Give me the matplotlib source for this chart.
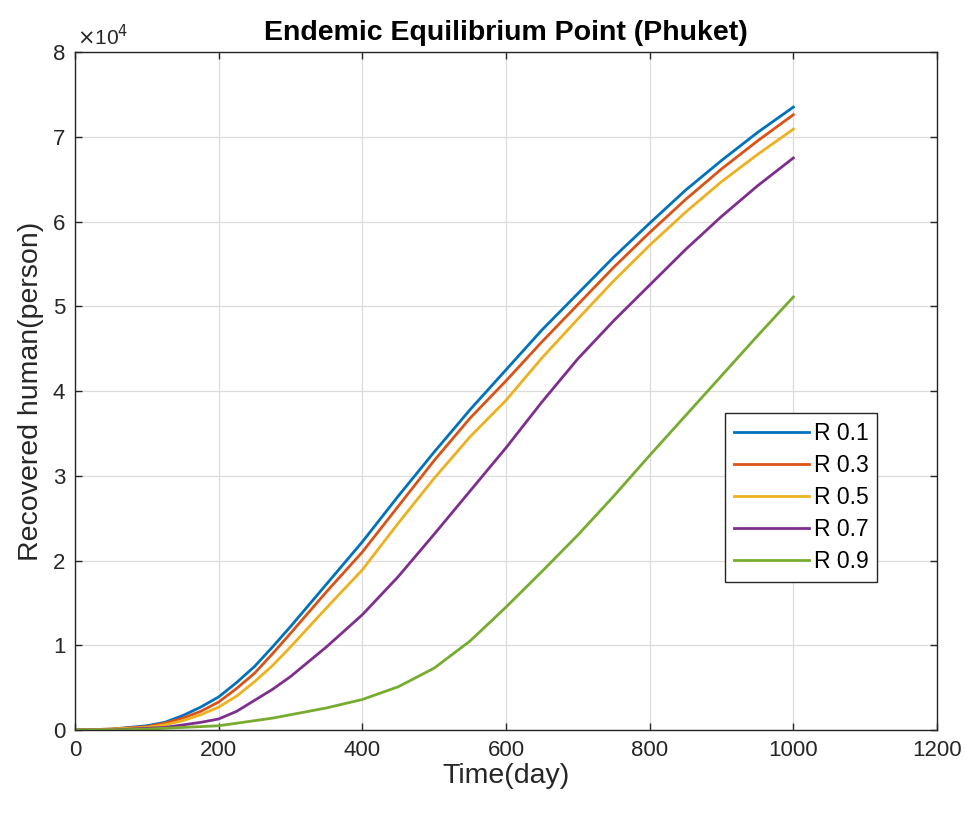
import numpy as np
import matplotlib
matplotlib.use("Agg")
import matplotlib.pyplot as plt

plt.rcParams['font.family'] = ['Liberation Sans', 'DejaVu Sans']

# time axis (day) and recovered humans, in units of 10^4 persons
days = [0, 50, 100, 125, 150, 175, 200, 225, 250, 275, 300, 350, 400, 450, 500,
        550, 600, 650, 700, 750, 800, 850, 900, 950, 1000]
r01 = [0, 0.01, 0.05, 0.09, 0.17, 0.27, 0.39, 0.56, 0.75, 0.98, 1.22, 1.72,
       2.22, 2.76, 3.28, 3.78, 4.25, 4.72, 5.15, 5.58, 5.98, 6.37, 6.72, 7.05, 7.35]
r03 = [0, 0.01, 0.04, 0.08, 0.14, 0.22, 0.33, 0.49, 0.67, 0.90, 1.14, 1.63,
       2.10, 2.64, 3.18, 3.68, 4.12, 4.58, 5.02, 5.46, 5.87, 6.26, 6.62, 6.95, 7.26]
r05 = [0, 0.01, 0.03, 0.06, 0.11, 0.18, 0.27, 0.40, 0.57, 0.76, 0.98, 1.44,
       1.89, 2.44, 2.97, 3.46, 3.89, 4.39, 4.85, 5.30, 5.72, 6.11, 6.47, 6.79, 7.09]
r07 = [0, 0.0, 0.02, 0.03, 0.06, 0.09, 0.13, 0.22, 0.35, 0.48, 0.63, 0.98,
       1.36, 1.81, 2.31, 2.82, 3.33, 3.87, 4.38, 4.83, 5.25, 5.67, 6.06, 6.42, 6.75]
r09 = [0, 0.0, 0.01, 0.02, 0.03, 0.04, 0.05, 0.08, 0.11, 0.14, 0.18, 0.26,
       0.36, 0.51, 0.73, 1.05, 1.45, 1.87, 2.30, 2.76, 3.24, 3.71, 4.18, 4.65, 5.11]

labels = ['R 0.1', 'R 0.3', 'R 0.5', 'R 0.7', 'R 0.9']
colors = ['#0072BD', '#D95319', '#EDB120', '#7E2F8E', '#77AC30']
series = [r01, r03, r05, r07, r09]

fig = plt.figure(figsize=(9.65, 8.14), dpi=100)
ax = fig.add_axes([0.0777, 0.1032, 0.8933, 0.8329])

for ys, c, lab in zip(series, colors, labels):
    ax.plot(days, np.array(ys) * 1e4, color=c, lw=2.0, label=lab)

ax.set_xlim(0, 1200)
ax.set_ylim(0, 8e4)
ax.set_xticks(np.arange(0, 1201, 200))
ax.set_yticks(np.arange(0, 8.01e4, 1e4))
ax.set_yticklabels([str(i) for i in range(9)])
ax.grid(True, color='#dcdcdc', lw=0.9)
ax.set_axisbelow(True)

dark = '#262626'
for sp in ax.spines.values():
    sp.set_color(dark)
    sp.set_linewidth(1.0)
ax.tick_params(direction='in', length=5, width=1, colors=dark,
               labelsize=16, top=True, right=True, pad=7)

ax.text(0.002, 1.004, r'$\times$10$^4$', transform=ax.transAxes,
        fontsize=15, color=dark, ha='left', va='bottom')

ax.set_xlabel('Time(day)', fontsize=20.5, color=dark, labelpad=2)
ax.set_ylabel('Recovered human(person)', fontsize=20.5, color=dark, labelpad=6)
ax.set_title('Endemic Equilibrium Point (Phuket)', fontsize=20.5,
             fontweight='bold', color='black', pad=9)

leg = ax.legend(loc='upper left', bbox_to_anchor=(0.754, 0.4676),
                borderaxespad=0, fontsize=16.5, handlelength=3.3,
                labelspacing=0.4, handletextpad=0.2, borderpad=0.38,
                fancybox=False, framealpha=1, edgecolor=dark)
leg.get_frame().set_linewidth(1.0)

fig.savefig('out.png', dpi=100)
